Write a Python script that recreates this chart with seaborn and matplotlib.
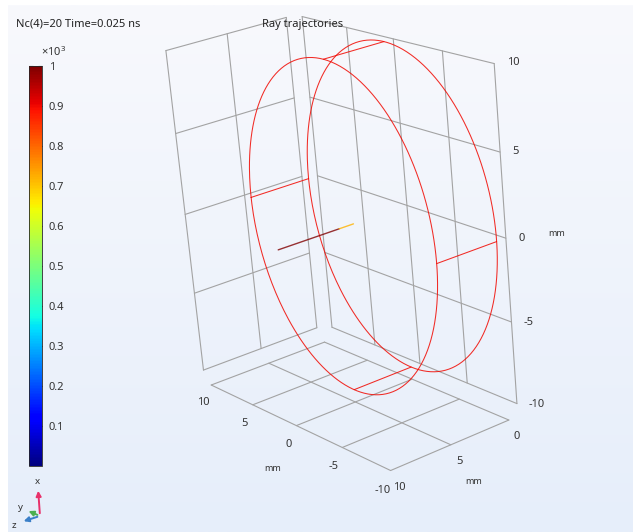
import numpy as np
import matplotlib
matplotlib.use('Agg')
import matplotlib.pyplot as plt
import seaborn as sns
from matplotlib.colors import Normalize
from matplotlib.colorbar import ColorbarBase
from matplotlib.patches import FancyArrowPatch

sns.set_theme(style='white')
plt.rcParams['font.family'] = ['Noto Sans', 'DejaVu Sans']
plt.rcParams['mathtext.default'] = 'regular'

# ---- data (mm) -------------------------------------------------------
grid_x = [-10, -5, 0, 5, 10]      # vertical axis
grid_y = [-10, -5, 0, 5, 10]
grid_z = [0, 5, 10]
x_ticklabels = ['-10', '-5', '0', '5', '10']
y_ticklabels = ['-10', '-5', '0', '5', '10']
z_ticklabels = ['0', '5', '10']

ring_radius = 10.0
ring_planes = [0.0, 5.0]            # z of the two ray fronts
ring_angles = [0, 90, 180, 270]      # rays drawn between the fronts
ring_value = 0.9                     # x10^3

axis_ray_z = [10.0, 5.0, 3.8]        # central ray, segment ends
axis_ray_value = [1.0, 0.72]

cbar_ticks = [0.1, 0.2, 0.3, 0.4, 0.5, 0.6, 0.7, 0.8, 0.9, 1.0]
cbar_labels = ['0.1', '0.2', '0.3', '0.4', '0.5', '0.6', '0.7', '0.8', '0.9', '1']

# view settings (COMSOL-like camera)
gap = 0.786          # grid planes sit a little outside the data box
vstretch = 1.16
grid_col = '#a3a3a3'
txt_col = '#333333'

cmap = matplotlib.colormaps['jet']
norm = Normalize(0, 1)


def P(x, y, z):
    # data (x up, y, z) -> mpl (X, Y, Z)
    return np.asarray(y, float), np.asarray(z, float), np.asarray(x, float)


fig = plt.figure(figsize=(6.33, 5.32), dpi=100)

# background gradient
bg = fig.add_axes([8 / 633, 0, 1 - 8 / 633, 1 - 5 / 532])
grad = np.linspace(0, 1, 256).reshape(-1, 1)
bg.imshow(grad, aspect='auto', cmap=sns.blend_palette(['#f8f9fd', '#e6eefa'], as_cmap=True),
          extent=[0, 1, 0, 1])
bg.set_axis_off()

ax = fig.add_axes([0.1383, 0.0871, 0.7792, 0.9272], projection='3d', computed_zorder=False)
ax.set_proj_type('persp', focal_length=0.849)
ax.patch.set_visible(False)
ax.set_xticks([])
ax.set_yticks([])
ax.set_zticks([])
for axis in (ax.xaxis, ax.yaxis, ax.zaxis):
    axis.label.set_visible(False)
    axis.offsetText.set_visible(False)
ax.set_axis_off()

ymin, ymax = min(grid_y), max(grid_y)
zmin, zmax = min(grid_z), max(grid_z)
xmin, xmax = min(grid_x), max(grid_x)

# left wall (y = ymax + gap)
for zz in grid_z:
    ax.plot(*P([xmin, xmax], [ymax + gap] * 2, [zz, zz]), color=grid_col, lw=0.8)
for xx in grid_x:
    ax.plot(*P([xx, xx], [ymax + gap] * 2, [zmin, zmax]), color=grid_col, lw=0.8)
# back wall (z = zmin - gap)
for yy in grid_y:
    ax.plot(*P([xmin, xmax], [yy, yy], [zmin - gap] * 2), color=grid_col, lw=0.8)
for xx in grid_x:
    ax.plot(*P([xx, xx], [ymin, ymax], [zmin - gap] * 2), color=grid_col, lw=0.8)
# floor (x = xmin - gap)
for yy in grid_y:
    ax.plot(*P([xmin - gap] * 2, [yy, yy], [zmin, zmax]), color=grid_col, lw=0.8)
for zz in grid_z:
    ax.plot(*P([xmin - gap] * 2, [ymin, ymax], [zz, zz]), color=grid_col, lw=0.8)

# rays
t = np.linspace(0, 2 * np.pi, 300)
ring_col = cmap(norm(ring_value))
for zr in ring_planes:
    ax.plot(*P(ring_radius * np.sin(t), ring_radius * np.cos(t), np.full_like(t, zr)),
            color=ring_col, lw=0.75, alpha=0.85)
for a in ring_angles:
    r = np.deg2rad(a)
    ax.plot(*P([ring_radius * np.sin(r)] * 2, [ring_radius * np.cos(r)] * 2, ring_planes),
            color=ring_col, lw=0.75, alpha=0.85)
for i, v in enumerate(axis_ray_value):
    ax.plot(*P([0, 0], [0, 0], axis_ray_z[i:i + 2]), color=cmap(norm(v)), lw=1.0, alpha=0.8)

# tick labels
for xx, lab in zip(grid_x, x_ticklabels):
    ax.text(*P(xx + 0.25, ymin - 1.2, zmin - gap), lab, fontsize=8, color=txt_col, ha='left', va='center')
ax.text(*P(1.1, ymin - 4.1, zmin - gap), 'mm', fontsize=6.5, color=txt_col, ha='left', va='center')
for yy, lab in zip(grid_y, y_ticklabels):
    ax.text(*P(xmin - gap - 0.95, yy, zmax + 0.8), lab, fontsize=8, color=txt_col, ha='center', va='center')
ax.text(*P(xmin - gap - 2.0, 0, zmax + 2.25), 'mm', fontsize=6.5, color=txt_col, ha='center', va='center')
for zz, lab in zip(grid_z, z_ticklabels):
    ax.text(*P(xmin - gap - 0.85, ymin - 0.7, zz), lab, fontsize=8, color=txt_col, ha='center', va='center')
ax.text(*P(xmin - gap - 1.7, ymin - 2.0, 5), 'mm', fontsize=6.5, color=txt_col, ha='center', va='center')

ax.set_xlim(ymin, ymax + gap)
ax.set_ylim(zmin - gap, zmax)
ax.set_zlim(xmin - gap, xmax)
ax.set_box_aspect((ymax - ymin + gap, zmax - zmin + gap, (xmax - xmin + gap) * vstretch))
ax.view_init(elev=19.8, azim=144.05, roll=5.32)

# colorbar
cax = fig.add_axes([29 / 633, 1 - 466 / 532, 13 / 633, 400 / 532])
cb = ColorbarBase(cax, cmap=cmap, norm=norm, orientation='vertical')
cb.set_ticks(cbar_ticks)
cb.set_ticklabels(cbar_labels)
cb.outline.set_linewidth(0.6)
cax.tick_params(axis='y', direction='in', length=3, width=0.8, labelsize=8,
                labelcolor=txt_col, left=True, right=True, pad=5)
fig.text(41 / 633, 1 - 52 / 532, '×10$^{3}$', fontsize=8, color=txt_col, ha='left', va='center')

fig.text(16 / 633, 1 - 24 / 532, 'Nc(4)=20 Time=0.025 ns', fontsize=8, color='#222222', ha='left', va='center')
fig.text(303 / 633, 1 - 24 / 532, 'Ray trajectories', fontsize=8, color='#222222', ha='center', va='center')

# axis triad
o = (40 / 633, 1 - 516 / 532)
for tip, col, lab, lpos in [((38, 488), '#e8306a', 'x', (37, 481)),
                            ((26, 510), '#4caf50', 'y', (20, 507)),
                            ((21, 522), '#3a7fc8', 'z', (14, 526))]:
    fig.add_artist(FancyArrowPatch(
        o, (tip[0] / 633, 1 - tip[1] / 532), transform=fig.transFigure,
        arrowstyle='-|>,head_length=3,head_width=1.5', color=col, lw=1.4))
    fig.text(lpos[0] / 633, 1 - lpos[1] / 532, lab, fontsize=7, color=txt_col, ha='center', va='center')

fig.savefig('out.png', dpi=100)
